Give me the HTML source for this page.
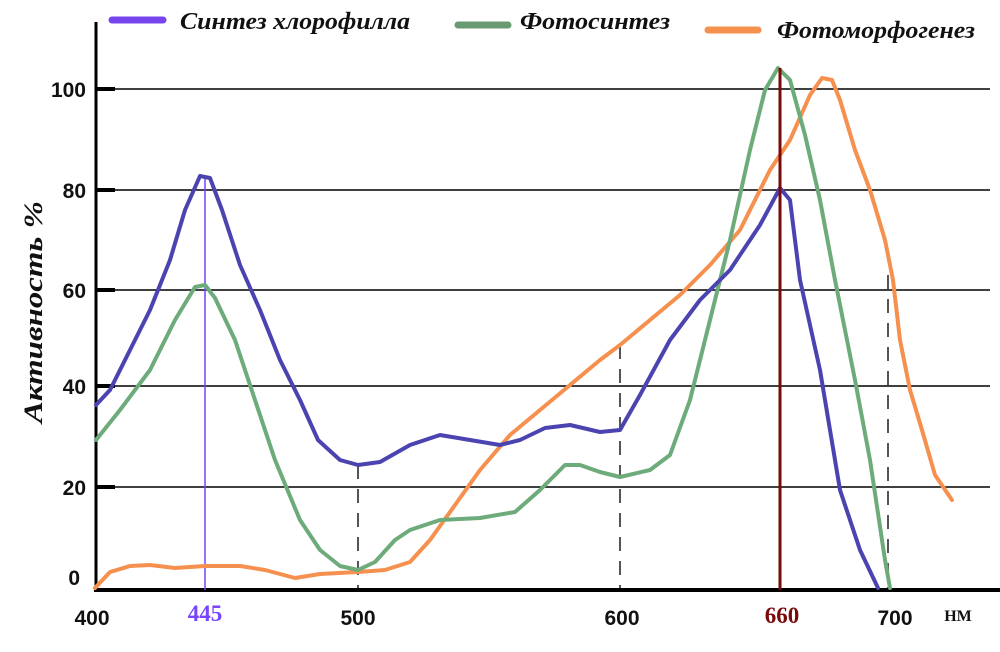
<!DOCTYPE html>
<html><head><meta charset="utf-8"><style>
html,body{margin:0;padding:0;background:#fff;}
svg{display:block;}
</style></head><body>
<svg width="1000" height="652" viewBox="0 0 1000 652" xmlns="http://www.w3.org/2000/svg">
<g stroke="#000" stroke-width="1.6">
<line x1="95" y1="89" x2="990" y2="89"/>
<line x1="95" y1="190" x2="990" y2="190"/>
<line x1="95" y1="290" x2="990" y2="290"/>
<line x1="95" y1="386" x2="990" y2="386"/>
<line x1="95" y1="487" x2="990" y2="487"/>
</g>
<g stroke="#000" stroke-width="4">
<line x1="95" y1="89" x2="115" y2="89"/><line x1="95" y1="190" x2="115" y2="190"/>
<line x1="95" y1="290" x2="115" y2="290"/><line x1="95" y1="386" x2="115" y2="386"/>
<line x1="95" y1="487" x2="115" y2="487"/>
</g>
<line x1="96" y1="22" x2="96" y2="590" stroke="#000" stroke-width="3"/>
<line x1="94" y1="590" x2="1000" y2="590" stroke="#000" stroke-width="4"/>
<g stroke="#555" stroke-width="2" stroke-dasharray="14,10">
<line x1="358" y1="465" x2="358" y2="588"/>
<line x1="620" y1="345" x2="620" y2="588"/>
<line x1="888" y1="275" x2="888" y2="588"/>
</g>
<line x1="205" y1="176" x2="205" y2="590" stroke="#7744ff" stroke-width="1.5"/>
<g fill="none" stroke-width="4" stroke-linejoin="round" stroke-linecap="round">
<polyline stroke="#f5904f" points="95,588 110,572 130,566 150,565 175,568 205,566 240,566 265,570 295,578 320,574 358,572 385,570 410,562 430,540 455,505 480,470 510,435 540,410 570,385 600,360 620,345 650,320 680,295 710,265 740,230 770,170 790,140 810,95 822,78 832,80 840,100 855,150 870,190 885,240 893,280 900,340 910,390 922,430 935,475 952,500"/>
<polyline stroke="#6dab7a" points="96,440 120,410 150,370 175,320 195,287 205,285 215,298 235,340 255,400 275,460 300,520 320,550 340,566 358,570 375,562 395,540 410,530 440,520 480,518 515,512 540,490 565,465 580,465 600,472 620,477 650,470 670,455 690,400 710,320 730,240 750,150 765,90 778,68 790,80 805,135 820,200 835,280 855,380 870,460 885,560 890,588"/>
<polyline stroke="#4b44b0" points="96,405 110,390 130,350 150,310 170,260 185,210 200,176 210,178 222,210 240,265 260,310 280,360 300,400 318,440 340,460 358,465 380,462 410,445 440,435 470,440 500,445 520,440 545,428 570,425 600,432 620,430 640,395 670,340 700,300 730,270 760,225 780,188 790,200 800,280 820,370 840,490 860,550 878,588"/>
</g>
<line x1="780" y1="68" x2="780" y2="590" stroke="#7a0a0a" stroke-width="3"/>
<g font-family="Liberation Sans, sans-serif" font-weight="bold" font-size="21" fill="#111" text-anchor="end">
<text x="86" y="97">100</text><text x="86" y="198">80</text><text x="86" y="298">60</text>
<text x="86" y="394">40</text><text x="86" y="495">20</text><text x="80" y="585">0</text>
</g>
<g font-family="Liberation Sans, sans-serif" font-weight="bold" font-size="21" fill="#111" text-anchor="middle">
<text x="92" y="625">400</text><text x="358" y="625">500</text><text x="622" y="625">600</text><text x="895" y="625">700</text>
</g>
<g font-family="Liberation Serif, serif" font-weight="bold" font-size="23" text-anchor="middle">
<text x="205" y="621" fill="#7744ff">445</text>
<text x="782" y="623" fill="#7a0a0a">660</text>
<text x="958" y="621" fill="#111" font-size="16">НМ</text>
</g>
<text transform="translate(42,312) rotate(-90)" font-family="Liberation Serif, serif" font-style="italic" font-weight="bold" font-size="26" text-anchor="middle" textLength="222" lengthAdjust="spacingAndGlyphs" fill="#111">Активность %</text>
<g stroke-width="7" stroke-linecap="round">
<line x1="112" y1="20" x2="163" y2="20" stroke="#7744ee"/>
<line x1="458" y1="25" x2="508" y2="25" stroke="#6a9a72"/>
<line x1="708" y1="30" x2="758" y2="30" stroke="#f5904f"/>
</g>
<g font-family="Liberation Serif, serif" font-style="italic" font-weight="bold" font-size="24" fill="#111" lengthAdjust="spacingAndGlyphs">
<text x="180" y="29" textLength="230" lengthAdjust="spacingAndGlyphs">Синтез хлорофилла</text>
<text x="520" y="29" textLength="150" lengthAdjust="spacingAndGlyphs">Фотосинтез</text>
<text x="777" y="38" textLength="198" lengthAdjust="spacingAndGlyphs">Фотоморфогенез</text>
</g>
</svg>
</body></html>
